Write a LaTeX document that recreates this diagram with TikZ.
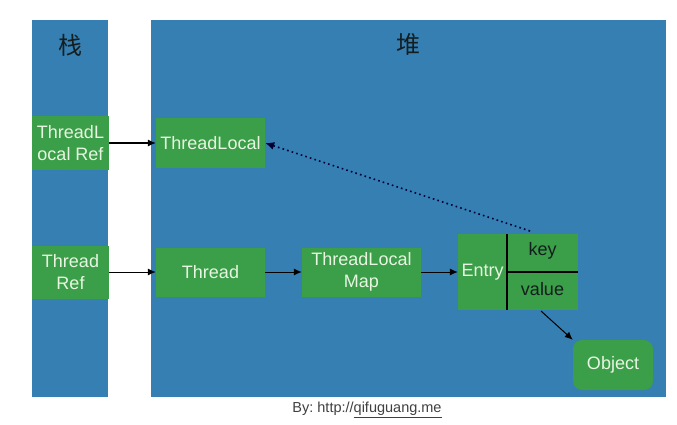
\documentclass[tikz,border=0pt]{standalone}
\usepackage{fontspec}
\setmainfont{Liberation Sans}
\newfontfamily\cjk{Noto Sans CJK SC}
\usetikzlibrary{arrows.meta}
\definecolor{bgblue}{RGB}{53,127,178}
\definecolor{boxgreen}{RGB}{59,158,72}
\definecolor{txtlight}{RGB}{232,245,225}
\definecolor{txtdark}{RGB}{20,30,30}
\frenchspacing
\begin{document}
\begin{tikzpicture}[x=1pt,y=-1pt,
  area/.style={fill=bgblue,draw=none},
  gbox/.style={fill=boxgreen,draw=none,text=txtlight,font=\fontsize{18}{22}\selectfont,align=center,inner sep=0pt},
  conn/.style={-{Latex[length=8pt,width=7pt]},line width=1pt,black},
  dotconn/.style={-{Latex[length=9pt,width=8pt]},line width=1.6pt,dash pattern=on 1.6pt off 3.2pt,black!80!blue}]
\useasboundingbox (0,0) rectangle (677,425);
\fill[white] (0,0) rectangle (677,425);
% columns
\node[area,minimum width=76pt,minimum height=377pt,anchor=north west,inner sep=0pt] (stack) at (32,20) {};
\node[area,minimum width=515pt,minimum height=377pt,anchor=north west,inner sep=0pt] (heap) at (151,20) {};
\node[font=\cjk\fontsize{24}{26}\selectfont,text=txtdark] (stacklbl) at (70,45) {栈};
\node[font=\cjk\fontsize{24}{26}\selectfont,text=txtdark] (heaplbl) at (408,44) {堆};
% boxes
\node[gbox,minimum width=77pt,minimum height=54pt] (tlref) at (70.5,143) {ThreadL\\ocal Ref};
\node[gbox,minimum width=109pt,minimum height=50pt] (tl) at (210.5,143) {ThreadLocal};
\node[gbox,minimum width=77pt,minimum height=53pt] (tref) at (70.5,272) {Thread\\Ref};
\node[gbox,minimum width=109pt,minimum height=49pt] (thread) at (210.5,272) {Thread};
\node[gbox,minimum width=119pt,minimum height=49pt] (tlmap) at (361.5,272) {ThreadLocal\\Map};
\node[gbox,minimum width=120pt,minimum height=76pt] (entry) at (518,272) {};
\node[gbox,anchor=center] (entrylbl) at (482.5,272) {Entry};
\coordinate (dvtop) at (507,234);
\coordinate (dvbot) at (507,310);
\coordinate (dhl) at (507,272);
\coordinate (dhr) at (578,272);
\draw[line width=1.3pt,black] (dvtop) -- (dvbot);
\draw[line width=1.3pt,black] (dhl) -- (dhr);
\node[font=\fontsize{18}{20}\selectfont,text=txtdark] (key) at (542.5,251) {key};
\node[font=\fontsize{18}{20}\selectfont,text=txtdark] (value) at (542.5,289) {value};
\node[gbox,rounded corners=9pt,minimum width=80pt,minimum height=50pt] (obj) at (613,365) {Object};
% connectors
\draw[conn] (tlref.east) -- (tl.west);
\draw[conn] (tref.east) -- (thread.west);
\draw[conn] (thread.east) -- (tlmap.west);
\draw[conn] (tlmap.east) -- (entry.west);
\coordinate (vstart) at (541,311);
\draw[conn] (vstart) -- (obj.north west);
\coordinate (dstart) at (530,231);
\draw[dotconn] (dstart) -- (tl.east);
% caption
\node[font=\fontsize{14.5}{16}\selectfont,text=black!75] (cap) at (367,410) {By: http://\underline{qifuguang.me}};
\end{tikzpicture}
\end{document}
